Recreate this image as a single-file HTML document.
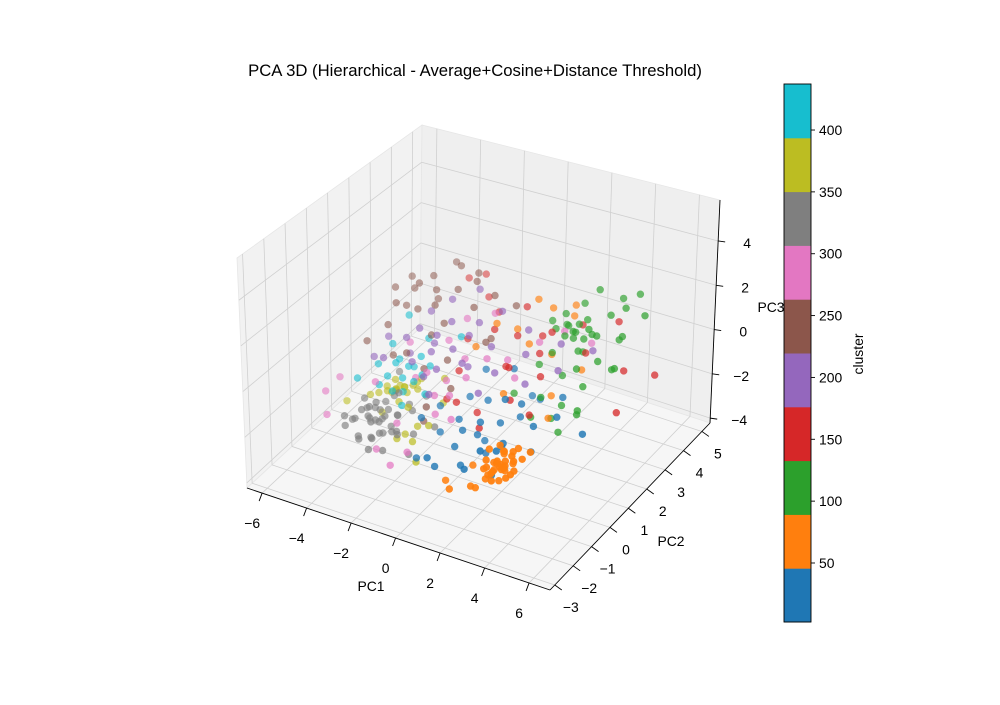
<!DOCTYPE html>
<html><head><meta charset="utf-8"><style>
body{margin:0;background:#fff}
svg text{font-family:"Liberation Sans",sans-serif;fill:#000}
</style></head><body>
<svg id="chart" width="1000" height="700" viewBox="0 0 1000 700" xmlns="http://www.w3.org/2000/svg">
<rect width="1000" height="700" fill="#fff"/>
<text x="475" y="76" font-size="16.7" text-anchor="middle">PCA 3D (Hierarchical - Average+Cosine+Distance Threshold)</text>
<g id="panes"></g>
<g id="grid"></g>
<g id="axes"></g>
<g id="points"></g>
<g id="cbar"></g>
<text x="371" y="591" font-size="13.9" text-anchor="middle">PC1</text>
<text x="671" y="546" font-size="13.9" text-anchor="middle">PC2</text>
<text x="771" y="312" font-size="13.9" text-anchor="middle">PC3</text>
<text transform="translate(863,354) rotate(-90)" font-size="13.9" text-anchor="middle">cluster</text>
</svg>
<script>
const xTicks=[-6,-4,-2,0,2,4,6];
const yTicks=[-3,-2,-1,0,1,2,3,4,5];
const zTicks=[-4,-2,0,2,4];
const cbTicks=[50,100,150,200,250,300,350,400];
const clusterValues=[20,60,105,150,195,240,285,325,370,415];
const s_blue=[[0.9,0,-2.1],[0.3,-0.5,-2.4],[1.5,0.5,-1.8],[-0.2,0.3,-2.0],[1.0,-1.0,-2.6],[2.0,0.0,-2.3],[0.5,1.0,-1.5],[1.8,1.2,-2.0],[-0.8,0.0,-2.5],[2.5,-0.5,-1.6],[0.0,-1.2,-2.8],[1.3,-0.3,-1.2],[2.2,0.8,-1.0],[-0.5,1.2,-1.8],[3.0,0.5,-1.5],[1.6,-1.5,-2.2],[2.8,-1.2,-1.3],[0.7,0.6,-2.9],[-1.2,-0.5,-1.6],[3.5,-0.2,-1.9],[4.8,1,-1.7],[2.0,2.0,-1.8],[1.2,2.5,-2.3],[-1.5,0.8,-2.2],[0.2,-1.8,-1.9],[3.2,1.8,-1.2],[2.6,-1.8,-0.9],[-0.3,1.8,-1.0],[1.9,0.3,-0.5],[0.8,2.0,-0.8],[2.4,-1.0,-2.6],[1.1,0.2,-3.0],[3.8,0.8,-1.1],[-1.0,-1.0,-2.9],[0.4,-0.2,-1.9]];
const s_orange=[[3.7,-2,-1.0],[3.9,-2,-0.8],[3.5,-2.2,-1.2],[4.1,-1.8,-0.9],[3.3,-1.9,-1.1],[3.8,-2.3,-0.6],[4.0,-2.1,-1.4],[3.6,-1.7,-0.7],[3.4,-2.4,-0.9],[4.2,-2.0,-0.5],[3.9,-1.6,-1.2],[3.2,-2.1,-1.5],[3.7,-2.5,-1.3],[4.3,-2.2,-1.1],[3.5,-1.8,-0.4],[3.0,-2.0,-1.8],[2.8,-2.3,-2.0],[3.1,-1.9,-0.6],[4.4,-1.7,-0.8],[3.6,-2.0,-1.7],[4.0,-2.4,-0.7],[2.5,-2.2,-2.1],[1.8,-2.5,-2.2],[1.2,-2.0,-2.4],[2.0,-1.5,-1.9],[4.6,-1.5,-0.6],[3.3,-1.4,-1.0],[3.8,-1.2,-0.9],[3.6,-2.1,-0.9],[3.8,-1.9,-1.1],[4.1,-2.3,-0.8],[3.4,-2.0,-1.3],[3.9,-2.2,-1.0],[3.5,-1.6,-0.9],[4.2,-1.9,-1.2],[3.3,-2.3,-0.7],[3.7,-1.8,-1.4],[4.0,-1.7,-0.6],[3.6,-2.4,-1.1],[3.1,-2.2,-1.2],[1.0,3,1.6],[1.5,3.2,1.2],[2.2,3.5,0.8],[0.5,2.5,0.5],[1.8,2.8,-0.5],[2.5,2.0,-1.5],[0.0,2.0,1.0],[3.0,3.0,-1.0],[-0.5,1.5,0.2],[1.2,1.0,-1.0],[2.8,1.5,-2.0],[2.0,3.8,1.0],[1.3,2.2,0.3]];
const s_green=[[2.6,3,0.3],[2.2,3.2,0.6],[3.0,2.8,0.0],[2.8,3.5,0.8],[3.4,3.3,0.4],[2.0,2.6,-0.2],[3.6,3.8,1.0],[4.1,4,1.3],[3.8,4.2,1.5],[2.4,3.8,1.2],[1.8,3.0,0.5],[3.2,2.5,-0.5],[4.4,3.5,0.5],[2.5,2.0,-2.5],[2.8,2.2,-2.0],[3.5,2.5,-1.2],[4.5,3.0,-0.5],[1.5,2.5,-0.8],[2.0,1.5,-2.2],[3.0,1.8,-2.8],[4.0,3.8,0.0],[2.9,4.0,1.8],[3.3,3.0,0.9],[1.2,3.5,0.3],[4.8,4.2,1.0],[3.7,2.0,-1.8],[2.3,2.8,-1.3],[0.8,2.0,-1.9],[3.9,2.8,-0.2],[1.6,3.8,0.0],[2.7,3.4,-0.6],[4.3,4.5,1.6],[2.5,3.1,0.5],[2.7,3.0,0.6],[2.9,3.2,0.2],[2.3,2.9,0.4],[3.1,3.4,0.3],[2.6,3.3,0.7],[3.5,2.2,-2.2],[2.2,1.8,-1.5],[4.2,3.2,-0.8],[1.9,3.4,0.9]];
const s_red=[[-0.1,2,0.7],[-3.1,4,0.6],[-2.5,4.2,0.8],[-2.0,3.8,0.2],[0.5,2.5,0.2],[1.0,1.5,-0.3],[-1.0,1.2,-0.8],[1.8,2.8,0.5],[0.3,3.2,0.9],[2.5,3.6,0.4],[-0.5,0.5,-1.5],[1.5,1.0,-1.2],[3.0,3.2,-0.4],[0.0,1.0,-2.2],[4.5,3.5,-1.0],[5.5,4.0,-1.3],[2.0,2.0,-0.8],[-1.5,2.2,-0.3],[1.2,3.0,0.0],[3.8,4.0,0.6],[-0.8,3.0,0.5],[2.2,1.2,-1.8],[0.8,0.2,-2.0],[4.8,2.8,-2.2],[1.6,2.4,-0.2],[-1.2,0.8,-1.8],[0.6,1.8,-0.6]];
const s_purple=[[-1.1,1,0.3],[-2.0,1.2,0.5],[-0.5,0.8,0.0],[-1.6,1.5,1.0],[-2.5,0.5,-0.3],[0.2,1.5,0.4],[-3.2,1.0,0.2],[-0.8,2.0,0.8],[-1.8,0.3,-0.6],[0.8,1.0,-0.2],[-2.8,1.8,0.9],[-1.3,0.0,-1.0],[-3.8,0.5,-0.5],[1.5,1.8,0.2],[-0.2,2.5,1.1],[-2.2,2.2,1.3],[2.0,1.2,-0.5],[-4.2,1.2,-0.2],[-1.5,2.8,1.5],[0.5,0.5,-0.8],[2.8,2.0,-0.3],[-3.5,1.5,-1.0],[1.0,2.5,0.6],[-0.6,1.2,-0.5],[3.5,3.0,0.0],[-2.6,1.0,0.8],[-1.9,0.8,0.1],[-0.9,1.6,0.5],[-2.3,1.4,-0.1],[-4.5,0.8,-0.9],[-1.4,0.5,-0.3],[2.4,2.6,0.3]];
const s_brown=[[-3.6,2,0.6],[-4.2,2.5,1.0],[-3.0,2.2,0.8],[-4.5,1.5,0.0],[-2.5,2.8,1.2],[-3.8,3.0,1.3],[-2.0,3.2,1.4],[-3.2,1.0,-0.5],[-4.8,2.2,1.1],[-2.8,1.8,-0.2],[-1.5,2.5,0.9],[-3.4,2.8,0.5],[-4.0,1.2,-1.0],[-2.2,3.5,1.5],[-1.0,3.0,1.2],[-3.0,3.5,1.6],[-4.4,1.8,0.8],[-1.8,1.5,-0.8],[-0.5,2.0,0.0],[-2.6,1.2,-1.2],[-5.0,1.0,-0.5],[-3.5,3.8,1.4],[-0.2,3.2,0.8],[-1.2,1.0,-1.5],[-2.0,0.5,-2.8],[-0.8,2.6,-0.4],[-4.6,2.8,1.2],[-3.9,2.4,1.4],[-4.3,2.2,0.4],[-3.3,2.6,1.1],[-2.4,2.0,0.3],[-1.6,0.2,-1.8]];
const s_pink=[[-6.0,0,-2.3],[-5.8,0.5,-2.0],[-5.5,-0.5,-2.8],[-2.2,-1,-3.6],[-3.0,-0.8,-3.3],[-1.5,0.5,-1.5],[-1.0,1.5,-0.5],[-0.5,1.0,-0.8],[-2.0,1.8,-0.2],[0.5,2.0,-0.5],[-1.2,0.2,-2.0],[-2.8,1.0,-1.5],[0.0,1.5,-0.2],[1.5,2.5,0.2],[-1.8,2.5,0.3],[-3.5,1.5,-0.5],[-0.3,0.0,-1.8],[2.2,3.0,0.5],[-2.5,-0.3,-2.4],[-4.0,0.3,-1.5],[1.0,1.8,-1.0],[-0.8,2.8,0.6],[-1.6,-0.8,-3.0],[3.0,3.5,-0.2],[-1.4,1.0,-1.2],[-0.9,0.6,-1.4],[-2.2,0.9,-1.0]];
const s_gray=[[-3.75,0,-2.9],[-4.2,0.2,-2.6],[-3.3,-0.3,-3.1],[-3.9,0.5,-3.3],[-3.5,-0.5,-2.5],[-4.5,-0.2,-2.9],[-3.0,0.3,-2.7],[-4.0,-0.6,-3.2],[-3.6,0.8,-2.4],[-4.3,0.6,-3.0],[-3.2,-0.8,-2.9],[-3.8,0.1,-2.2],[-4.6,0.4,-2.5],[-2.8,0.0,-3.1],[-3.4,0.4,-3.4],[-4.1,-0.3,-2.3],[-3.7,-0.9,-3.0],[-2.6,0.6,-2.6],[-4.8,0.0,-3.2],[-3.1,1.0,-2.8],[-3.9,1.2,-2.6],[-2.4,-0.4,-2.8],[-3.3,0.7,-2.1],[-4.4,-0.8,-2.7],[-2.9,-0.6,-3.5],[-3.6,0.2,-3.6],[-2.2,0.2,-3.2],[-1.8,-0.5,-3.4],[-4.0,1.5,-2.0],[-2.5,1.2,-2.4],[-3.0,-1.2,-3.0],[-1.5,0.5,-2.9],[-3.8,0.3,-2.7],[-4.1,0.1,-3.0],[-3.5,0.2,-2.8],[-3.2,0.5,-2.9],[-3.9,-0.2,-2.6],[-4.4,0.3,-2.8],[-3.4,-0.2,-2.7],[-3.7,0.6,-2.9],[-4.0,0.8,-2.8],[-3.1,0.1,-3.3],[-4.7,-0.5,-2.6],[-3.6,-0.4,-3.3]];
const s_olive=[[-4.1,1,-2.5],[-3.8,1.1,-2.4],[-3.5,1.2,-2.3],[-3.2,1.0,-2.3],[-4.4,0.9,-2.6],[-4.7,0.8,-2.7],[-3.0,1.3,-2.0],[-2.8,1.1,-2.1],[-3.6,0.9,-2.2],[-4.0,1.3,-2.2],[-3.3,0.7,-2.5],[-2.4,0.0,-3.1],[-1.8,-0.3,-3.0],[-1.5,0.2,-2.6],[-5.5,0.5,-3.0],[-2.0,1.5,-2.8],[-2.7,0.5,-2.4],[-3.9,0.5,-3.0],[-1.2,-0.8,-3.3],[-2.2,1.8,-2.0],[-3.4,1.1,-2.2],[-3.7,1.2,-2.3],[-3.1,1.2,-2.1],[-4.2,1.1,-2.4],[-2.9,1.4,-1.9],[-3.9,1.0,-2.5],[-2.6,-0.2,-3.2],[-2.1,0.3,-2.9]];
const s_cyan=[[-3.7,1,-1.1],[-3.3,1.2,-1.3],[-3.9,0.8,-1.6],[-3.0,1.5,-1.0],[-4.2,1.4,-0.7],[-3.5,0.6,-2.0],[-2.8,0.9,-1.6],[-3.1,2.0,-0.6],[-4.5,1.0,-1.4],[-2.5,1.4,-1.2],[-3.6,1.8,-1.9],[-2.9,0.4,-2.3],[-1.8,2.2,-0.3],[-4.0,2.0,0.2],[-2.2,0.8,-1.9],[-5.0,0.5,-1.8],[-3.4,1.0,-1.7],[-3.8,1.3,-1.2],[-2.6,1.1,-1.4],[-4.1,0.6,-1.9],[-3.2,0.8,-2.1]];
const seriesList=[s_blue,s_orange,s_green,s_red,s_purple,s_brown,s_pink,s_gray,s_olive,s_cyan];

const NS="http://www.w3.org/2000/svg";
const X0=-6.68,X1=6.94,Y0=-3.26,Y1=5.44,Z0=-4.22,Z1=5.85;
const FL=[247,488],FR=[550,590],BR=[710,423],BL=[420,328];
const VFL=[-10,-230],VFR=[-2,-250],VBR=[10,-223],VBL=[2,-203];
const tab10=["#1f77b4","#ff7f0e","#2ca02c","#d62728","#9467bd","#8c564b","#e377c2","#7f7f7f","#bcbd22","#17becf"];
const CB0=2.3,CB1=437.2;
function cmap(v){let i=Math.floor((v-CB0)/(CB1-CB0)*10);return tab10[Math.max(0,Math.min(9,i))];}
function bil(a,b,c,d,u,v,k){return (1-u)*(1-v)*a[k]+u*(1-v)*b[k]+u*v*c[k]+(1-u)*v*d[k];}
function projUVW(u,v,w){return [bil(FL,FR,BR,BL,u,v,0)+w*bil(VFL,VFR,VBR,VBL,u,v,0),bil(FL,FR,BR,BL,u,v,1)+w*bil(VFL,VFR,VBR,VBL,u,v,1)];}
function U(x){return (x-X0)/(X1-X0);} function V(y){return (y-Y0)/(Y1-Y0);} function W(z){return (z-Z0)/(Z1-Z0);}
function proj(x,y,z){return projUVW(U(x),V(y),W(z));}
function mk(tag,attrs,parent){const e=document.createElementNS(NS,tag);for(const k in attrs)e.setAttribute(k,attrs[k]);parent.appendChild(e);return e;}
function line(p,q,stroke,sw,parent,name){const e=mk('line',{x1:p[0],y1:p[1],x2:q[0],y2:q[1],stroke:stroke,'stroke-width':sw},parent);

return e;}
function poly(pts,fill,parent,name){const e=mk('polygon',{points:pts.map(p=>p.join(',')).join(' '),fill:fill,stroke:'#e6e6e6','stroke-width':0.8},parent);

}
const panes=document.getElementById('panes'),grid=document.getElementById('grid'),axes=document.getElementById('axes');
poly([projUVW(0,0,0),projUVW(0,1,0),projUVW(0,1,1),projUVW(0,0,1)],'#f2f2f2',panes,'left-pane');
poly([projUVW(0,1,0),projUVW(1,1,0),projUVW(1,1,1),projUVW(0,1,1)],'#efefef',panes,'back-pane');
poly([projUVW(0,0,0),projUVW(1,0,0),projUVW(1,1,0),projUVW(0,1,0)],'#f6f6f6',panes,'floor-pane');
const GC='#d0d0d0';
xTicks.forEach(t=>{const u=U(t);
 line(projUVW(u,0,0),projUVW(u,1,0),GC,0.8,grid,'floor-grid-x');
 line(projUVW(u,1,0),projUVW(u,1,1),GC,0.8,grid,'back-grid-x');});
yTicks.forEach(t=>{const v=V(t);
 line(projUVW(0,v,0),projUVW(1,v,0),GC,0.8,grid,'floor-grid-y');
 line(projUVW(0,v,0),projUVW(0,v,1),GC,0.8,grid,'left-grid-y');});
zTicks.forEach(t=>{const w=W(t);
 line(projUVW(0,0,w),projUVW(0,1,w),GC,0.8,grid,'left-grid-z');
 line(projUVW(0,1,w),projUVW(1,1,w),GC,0.8,grid,'back-grid-z');});
line(projUVW(0,0,0),projUVW(1,0,0),'#000',0.9,axes,'x-axis-line');
line(projUVW(1,0,0),projUVW(1,1,0),'#000',0.9,axes,'y-axis-line');
line(projUVW(1,1,0),projUVW(1,1,1),'#000',0.9,axes,'z-axis-line');
function txt(s,x,y,anchor,parent,name){const e=mk('text',{x:x,y:y,'font-size':13.9,'text-anchor':anchor},parent);e.textContent=s;

}
function lab(t){return t<0?'\u2212'+Math.abs(t):String(t);}
xTicks.forEach(t=>{const p=projUVW(U(t),0,0);line(p,[p[0]-3,p[1]+8],'#000',0.9,axes,'x-tick');txt(lab(t),p[0]-10,p[1]+35,'middle',axes,'x-tick-label');});
yTicks.forEach(t=>{const p=projUVW(1,V(t),0);line(p,[p[0]+7,p[1]+5],'#000',0.9,axes,'y-tick');txt(lab(t),p[0]+16,p[1]+27,'middle',axes,'y-tick-label');});
zTicks.forEach(t=>{const p=projUVW(1,1,W(t));line(p,[p[0]+7,p[1]+1],'#000',0.9,axes,'z-tick');txt(lab(t),p[0]+29,p[1]+7,'middle',axes,'z-tick-label');});
const all=[];
seriesList.forEach((s,i)=>s.forEach(p=>all.push({p:p,c:clusterValues[i]})));
all.forEach(o=>{o.d=U(o.p[0])-V(o.p[1]);});
all.sort((a,b)=>a.d-b.d);
const dmin=Math.min(...all.map(o=>o.d)),dmax=Math.max(...all.map(o=>o.d));
const pg=document.getElementById('points');
all.forEach(o=>{const q=proj(o.p[0],o.p[1],o.p[2]);const a=0.5+0.45*(o.d-dmin)/(dmax-dmin);
 const e=mk('circle',{cx:q[0].toFixed(1),cy:q[1].toFixed(1),r:3.7,fill:cmap(o.c),'fill-opacity':a.toFixed(2)},pg);
 
 });
const cb=document.getElementById('cbar');const CBX=784,CBW=27,CBT=84,CBB=622;
function cy(v){return CBB-(v-CB0)/(CB1-CB0)*(CBB-CBT);}
tab10.forEach((col,i)=>{const v0=CB0+i*(CB1-CB0)/10,v1=CB0+(i+1)*(CB1-CB0)/10;
 const e=mk('rect',{x:CBX,y:cy(v1),width:CBW,height:cy(v0)-cy(v1)+0.5,fill:col},cb);
 
 });
const fr=mk('rect',{x:CBX,y:CBT,width:CBW,height:CBB-CBT,fill:'none',stroke:'#000','stroke-width':0.9},cb);


cbTicks.forEach(t=>{const y=cy(t);line([CBX+CBW,y],[CBX+CBW+4,y],'#000',0.9,cb,'colorbar-tick');txt(String(t),CBX+CBW+8,y+5,'start',cb,'colorbar-tick-label');});
</script>
</body></html>
